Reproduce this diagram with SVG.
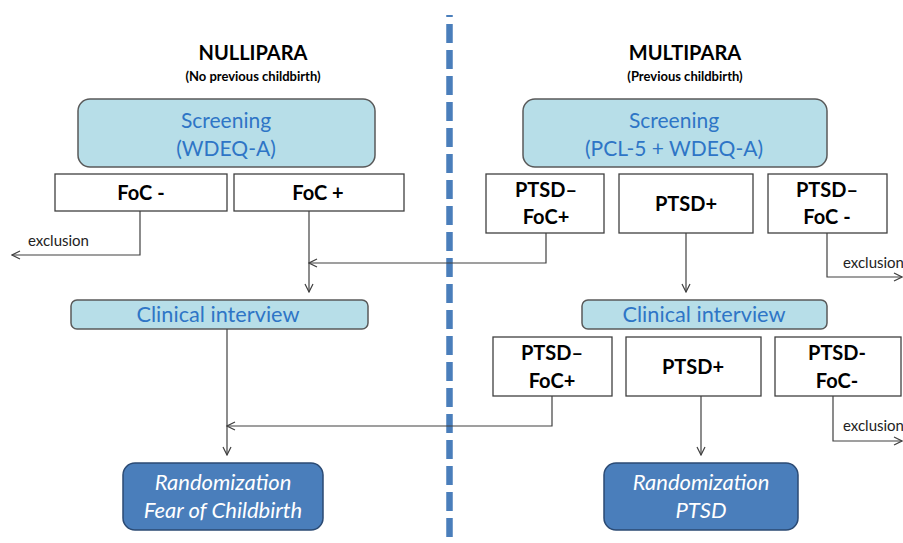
<svg xmlns="http://www.w3.org/2000/svg" width="903" height="543" viewBox="0 0 903 543">
<defs>
<marker id="arr" viewBox="0 0 10 10" refX="9" refY="5" markerWidth="10" markerHeight="10" markerUnits="userSpaceOnUse" orient="auto">
<path d="M1,1 L9,5 L1,9" fill="none" stroke="#404040" stroke-width="1.2"/>
</marker>
<style>
.t{font-family:Lato,"Liberation Sans",sans-serif;}
.h{font-size:20px;font-weight:bold;fill:#000;text-anchor:middle;}
.s{font-size:13px;font-weight:bold;fill:#000;text-anchor:middle;}
.scr{fill:#b7dee8;stroke:#595959;stroke-width:1.5;}
.bt{font-size:21px;fill:#2e75c6;text-anchor:middle;}
.box{fill:#fff;stroke:#404040;stroke-width:1.3;}
.bx{font-size:20px;font-weight:bold;fill:#000;text-anchor:middle;}
.rnd{fill:#4a7ebb;stroke:#2b4a73;stroke-width:1.5;}
.rt{font-size:22px;font-style:italic;fill:#fff;text-anchor:middle;}
.ex{font-size:15px;fill:#222;}
.c{fill:none;stroke:#404040;stroke-width:1.2;}
</style>
</defs>
<rect width="903" height="543" fill="#fff"/>
<line x1="449.5" y1="15" x2="449.5" y2="543" stroke="#4a7ebb" stroke-width="6.5" stroke-dasharray="19 7" stroke-dashoffset="17"/>

<g id="nullipara-title" class="t">
<text class="h" x="253" y="60">NULLIPARA</text>
<text class="s" x="253" y="81">(No previous childbirth)</text>
</g>
<g id="multipara-title" class="t">
<text class="h" x="685" y="60">MULTIPARA</text>
<text class="s" x="685" y="81">(Previous childbirth)</text>
</g>

<g id="screening-left" class="t">
<rect class="scr" x="78" y="99" width="297" height="68" rx="12"/>
<text class="bt" x="226" y="128">Screening</text>
<text class="bt" x="226" y="156">(WDEQ-A)</text>
</g>
<g id="screening-right" class="t">
<rect class="scr" x="523" y="99" width="304" height="68" rx="12"/>
<text class="bt" x="674" y="128">Screening</text>
<text class="bt" x="674" y="156">(PCL-5 + WDEQ-A)</text>
</g>

<g id="foc-minus" class="t">
<rect class="box" x="55" y="174" width="172" height="37"/>
<text class="bx" x="141" y="200">FoC -</text>
</g>
<g id="foc-plus" class="t">
<rect class="box" x="234" y="174" width="170" height="37"/>
<text class="bx" x="318" y="200">FoC +</text>
</g>

<g id="ptsd-foc-plus-1" class="t">
<rect class="box" x="486" y="174" width="118" height="59"/>
<text class="bx" x="546" y="197">PTSD–</text>
<text class="bx" x="546" y="224">FoC+</text>
</g>
<g id="ptsd-plus-1" class="t">
<rect class="box" x="619" y="174" width="134" height="59"/>
<text class="bx" x="686" y="211">PTSD+</text>
</g>
<g id="ptsd-foc-minus-1" class="t">
<rect class="box" x="768" y="174" width="119" height="59"/>
<text class="bx" x="827" y="197">PTSD–</text>
<text class="bx" x="827" y="224">FoC -</text>
</g>

<g id="clinical-left" class="t">
<rect class="scr" x="71" y="300" width="297" height="29" rx="6"/>
<text class="bt" x="218" y="322" textLength="163" lengthAdjust="spacingAndGlyphs">Clinical interview</text>
</g>
<g id="clinical-right" class="t">
<rect class="scr" x="582" y="300" width="245" height="29" rx="6"/>
<text class="bt" x="704" y="322" textLength="163" lengthAdjust="spacingAndGlyphs">Clinical interview</text>
</g>

<g id="ptsd-foc-plus-2" class="t">
<rect class="box" x="493" y="337" width="119" height="59"/>
<text class="bx" x="552" y="360">PTSD–</text>
<text class="bx" x="552" y="388">FoC+</text>
</g>
<g id="ptsd-plus-2" class="t">
<rect class="box" x="626" y="337" width="135" height="59"/>
<text class="bx" x="693" y="374">PTSD+</text>
</g>
<g id="ptsd-foc-minus-2" class="t">
<rect class="box" x="775" y="337" width="126" height="59"/>
<text class="bx" x="837" y="360">PTSD-</text>
<text class="bx" x="837" y="388">FoC-</text>
</g>

<g id="random-left" class="t">
<rect class="rnd" x="123" y="463" width="200" height="67" rx="12"/>
<text class="rt" x="223" y="490">Randomization</text>
<text class="rt" x="223" y="518">Fear of Childbirth</text>
</g>
<g id="random-right" class="t">
<rect class="rnd" x="604" y="463" width="194" height="67" rx="12"/>
<text class="rt" x="701" y="490">Randomization</text>
<text class="rt" x="701" y="518">PTSD</text>
</g>

<g id="connectors">
<path class="c" d="M140,211 V255 H12" marker-end="url(#arr)"/>
<path class="c" d="M309,211 V292" marker-end="url(#arr)"/>
<path class="c" d="M546,233 V263 H309" marker-end="url(#arr)"/>
<path class="c" d="M686,233 V292" marker-end="url(#arr)"/>
<path class="c" d="M827,233 V277 H902" marker-end="url(#arr)"/>
<path class="c" d="M227,329 V455" marker-end="url(#arr)"/>
<path class="c" d="M552,396 V426 H227" marker-end="url(#arr)"/>
<path class="c" d="M701,396 V455" marker-end="url(#arr)"/>
<path class="c" d="M833,396 V441 H902" marker-end="url(#arr)"/>
<g class="t">
<text class="ex" x="28" y="246">exclusion</text>
<text class="ex" x="843" y="268">exclusion</text>
<text class="ex" x="843" y="431">exclusion</text>
</g>
</g>
</svg>
